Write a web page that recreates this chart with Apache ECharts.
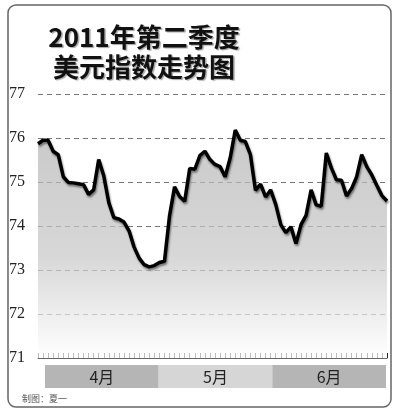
<!DOCTYPE html>
<html>
<head>
<meta charset="utf-8">
<script src="https://cdn.jsdelivr.net/npm/echarts@6/dist/echarts.min.js"></script>
<style>
  html, body { margin: 0; padding: 0; background: #fff; }
  #main { width: 400px; height: 413px; }
</style>
</head>
<body>
<div id="main"></div>
<script>
// 美元指数 日收盘
var values = [
  75.87, 75.95, 75.95, 75.70, 75.62, 75.12, 74.99, 74.98, 74.96, 74.94,
  74.72, 74.82, 75.51, 75.14, 74.53, 74.19, 74.16, 74.09, 73.89, 73.52,
  73.27, 73.12, 73.07, 73.10, 73.17, 73.20, 74.23, 74.89, 74.67, 74.56,
  75.31, 75.29, 75.60, 75.70, 75.51, 75.40, 75.35, 75.12, 75.55, 76.18,
  75.95, 75.92, 75.62, 74.81, 74.95, 74.66, 74.82, 74.49, 74.03, 73.85,
  73.98, 73.60, 74.03, 74.24, 74.82, 74.48, 74.45, 75.66, 75.32, 75.05,
  75.04, 74.68, 74.85, 75.12, 75.62, 75.35, 75.16, 74.92, 74.69, 74.57
]
var days = values.map(function (v, i) { return String(i + 1) })
var months = ['4月', '5月', '6月']
var monthColors = ['#b5b5b5', '#d6d6d6', '#b5b5b5']
var yTicks = [71, 72, 73, 74, 75, 76, 77]

var myChart = echarts.init(document.getElementById('main'))

var option = {
  backgroundColor: '#fff',
  animation: false,
  title: {
    text: '2011年第二季度\n美元指数走势图',
    left: 139,
    top: 17,
    textAlign: 'center',
    textStyle: {
      fontFamily: 'Noto Sans CJK SC',
      fontWeight: 'bold',
      fontSize: 26,
      lineHeight: 30,
      color: '#111',
      textShadowColor: 'rgba(0,0,0,0.35)',
      textShadowOffsetX: 1.5,
      textShadowOffsetY: 1.5,
      textShadowBlur: 1
    }
  },
  graphic: [
    {
      type: 'rect',
      shape: { x: 8, y: 5, width: 383, height: 402, r: 8 },
      style: { fill: 'none', stroke: '#666', lineWidth: 1.5 },
      z: 0
    },
    {
      type: 'text',
      left: 22,
      top: 394,
      style: { text: '制图：夏一', fontSize: 9, fill: '#555', fontFamily: 'Noto Sans CJK SC' }
    }
  ],
  grid: [
    { left: 38, right: 13, top: 94, bottom: 55 },
    { left: 45, right: 14, top: 365, height: 23 }
  ],
  xAxis: [
    {
      type: 'category',
      gridIndex: 0,
      data: days,
      boundaryGap: false,
      axisLine: { lineStyle: { color: '#666', width: 1 } },
      axisTick: { inside: true, length: 5, interval: 0, lineStyle: { color: '#222', width: 1 } },
      axisLabel: { show: false },
      splitLine: { show: false }
    },
    {
      type: 'category',
      gridIndex: 1,
      data: months,
      axisLine: { show: false },
      axisTick: { show: false },
      axisLabel: { show: false }
    }
  ],
  yAxis: [
    {
      type: 'value',
      gridIndex: 0,
      min: yTicks[0],
      max: yTicks[yTicks.length - 1],
      interval: 1,
      axisLine: { show: false },
      axisTick: { show: false },
      axisLabel: {
        margin: 13,
        fontFamily: 'Liberation Serif',
        fontSize: 16,
        color: '#222'
      },
      splitLine: { lineStyle: { color: '#777', type: [5, 4], width: 1 } }
    },
    {
      type: 'value',
      gridIndex: 1,
      min: 0,
      max: 1,
      show: false
    }
  ],
  series: [
    {
      type: 'line',
      xAxisIndex: 0,
      yAxisIndex: 0,
      data: values,
      symbol: 'none',
      lineStyle: {
        color: '#000',
        width: 3.5,
        shadowColor: 'rgba(0,0,0,0.45)',
        shadowBlur: 2,
        shadowOffsetX: 1,
        shadowOffsetY: 2
      },
      areaStyle: {
        origin: 'start',
        color: new echarts.graphic.LinearGradient(0, 0, 0, 1, [
          { offset: 0, color: '#b3b3b3' },
          { offset: 0.55, color: '#c6c6c6' },
          { offset: 1, color: '#ffffff' }
        ])
      },
      z: 3
    },
    {
      type: 'bar',
      xAxisIndex: 1,
      yAxisIndex: 1,
      barWidth: '100%',
      data: months.map(function (m, i) {
        return { value: 1, itemStyle: { color: monthColors[i] } }
      }),
      label: {
        show: true,
        position: 'inside',
        formatter: function (p) { return p.name },
        fontFamily: 'Noto Sans CJK SC',
        fontSize: 16,
        color: '#222'
      }
    }
  ]
}

myChart.setOption(option)
</script>
</body>
</html>
